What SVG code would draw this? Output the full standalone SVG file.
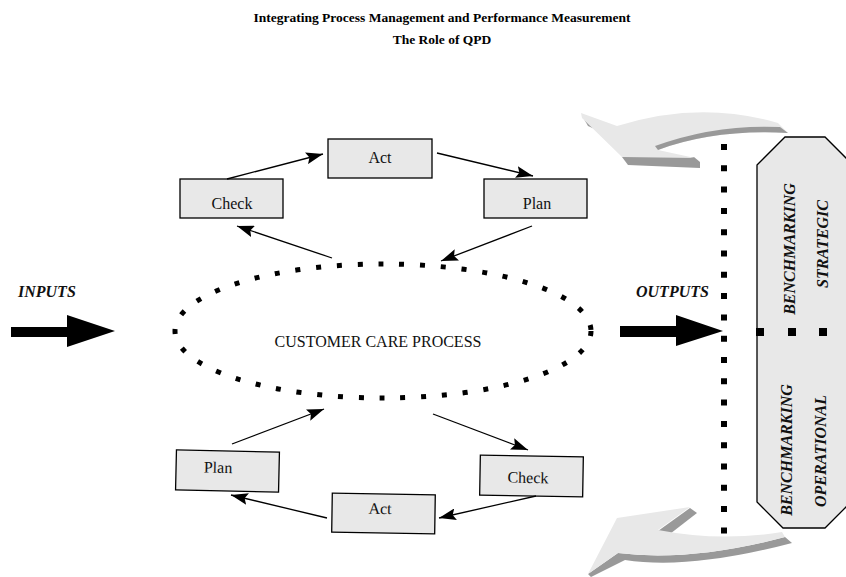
<svg xmlns="http://www.w3.org/2000/svg" width="846" height="577" viewBox="0 0 846 577">
<defs>
<style>
.box{fill:#e8e8e8;stroke:#000;stroke-width:1.3}
.lbl{font-family:"Liberation Serif","Times New Roman",serif;font-size:16px;fill:#111;text-anchor:middle}
.bi{font-family:"Liberation Serif","Times New Roman",serif;font-size:16px;font-weight:bold;font-style:italic;fill:#111}
.title{font-family:"Liberation Serif","Times New Roman",serif;font-size:13.5px;font-weight:bold;fill:#000;text-anchor:middle}
.con{stroke:#000;stroke-width:1.3;fill:none;marker-end:url(#ah)}
.dots{fill:none;stroke:#000;stroke-width:5}
.shadow{fill:#999}
.light{fill:#e8e8e8}
</style>
<marker id="ah" markerUnits="userSpaceOnUse" markerWidth="18" markerHeight="12" refX="17" refY="6" orient="auto">
<path d="M0,0 L17,6 L0,12 L3,6 Z" fill="#000"/>
</marker>
</defs>
<rect width="846" height="577" fill="#fff"/>
<g id="title">
<text class="title" x="442" y="22">Integrating Process Management and Performance Measurement</text>
<text class="title" x="442" y="44">The Role of QPD</text>
</g>
<g id="curved-arrow-top">
<path class="shadow" d="M584,119 L618,134 L617,139 L588,126 Z"/>
<path class="shadow" d="M622,157 L694,157 L700,162 L700,168 L628,165 Z"/>
<path class="light" d="M581,113 L617,126 Q700,100 778,123 L788,133 Q715,129 658,150 L695,158 L622,157 L582,118 Z"/>
<path class="shadow" d="M780,127 Q715,124 655,146 L658,150 Q715,129 788,133 Z"/>
</g>
<g id="curved-arrow-bottom">
<path class="shadow" d="M690,508 L697,513 L666,537 L658,531 Z"/>
<path class="shadow" d="M785,537 Q690,562 618,553 L588,574 L591,577 L625,560 Q690,570 792,543 Z"/>
<path class="light" d="M588,574 L617,518 L690,507 L658,530 Q720,542 782,532 L785,537 Q690,562 618,553 Z"/>
</g>
<g id="benchmarking">
<path class="box" d="M757,165 L785,137 L825,137 L853,165 L853,500 L825,528 L783,528 L757,502 Z"/>
<text class="bi" text-anchor="middle" transform="translate(795,249) rotate(-90)">BENCHMARKING</text>
<text class="bi" text-anchor="middle" transform="translate(828,244) rotate(-90)">STRATEGIC</text>
<text class="bi" text-anchor="middle" transform="translate(792,450) rotate(-90)">BENCHMARKING</text>
<text class="bi" text-anchor="middle" transform="translate(826,451) rotate(-90)">OPERATIONAL</text>
<rect x="756" y="328" width="8" height="8"/>
<rect x="788" y="328" width="8" height="8"/>
<rect x="819" y="328" width="8" height="8"/>
</g>
<g id="boundary">
<path d="M724,144 V534" fill="none" stroke="#000" stroke-width="6" stroke-dasharray="6 15.3"/>
</g>
<g id="inputs">
<text class="bi" x="18" y="297">INPUTS</text>
<path d="M11,327 H67 V315 L115,331 L67,347 V337 H11 Z" fill="#000"/>
</g>
<g id="outputs">
<text class="bi" x="636" y="297">OUTPUTS</text>
<path d="M620,326 H676 V315 L723,331 L676,346 V337 H620 Z" fill="#000"/>
</g>
<g id="process">
<ellipse class="dots" cx="383" cy="331" rx="208" ry="67" stroke-dasharray="5 15.8"/>
<text class="lbl" x="378" y="347">CUSTOMER CARE PROCESS</text>
</g>
<g id="act-top"><rect class="box" x="328" y="139" width="104" height="39"/><text class="lbl" x="380" y="163">Act</text></g>
<g id="check-top"><rect class="box" x="180" y="179" width="103" height="39"/><text class="lbl" x="232" y="209">Check</text></g>
<g id="plan-top"><rect class="box" x="484" y="179" width="103" height="39"/><text class="lbl" x="537" y="209">Plan</text></g>
<g id="plan-bottom" transform="rotate(1.3 227 471)"><rect class="box" x="176" y="451" width="103" height="40"/><text class="lbl" x="218" y="473">Plan</text></g>
<g id="act-bottom" transform="rotate(0.9 383 513)"><rect class="box" x="332" y="494" width="103" height="39"/><text class="lbl" x="380" y="514">Act</text></g>
<g id="check-bottom" transform="rotate(1 531 476)"><rect class="box" x="480" y="456" width="103" height="40"/><text class="lbl" x="528" y="483">Check</text></g>
<g id="connectors">
<line class="con" x1="227" y1="179" x2="323" y2="154"/>
<line class="con" x1="437" y1="153" x2="533" y2="176"/>
<line class="con" x1="532" y1="226" x2="441" y2="261"/>
<line class="con" x1="332" y1="258" x2="237" y2="226"/>
<line class="con" x1="232" y1="444" x2="324" y2="409"/>
<line class="con" x1="433" y1="414" x2="528" y2="450"/>
<line class="con" x1="536" y1="496" x2="439" y2="518"/>
<line class="con" x1="327" y1="518" x2="231" y2="495"/>
</g>
</svg>
